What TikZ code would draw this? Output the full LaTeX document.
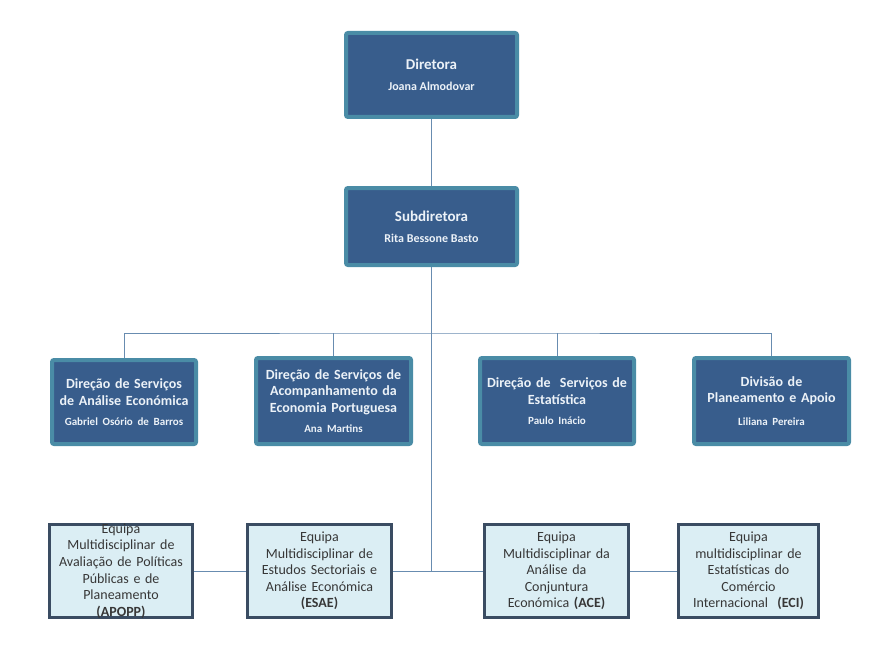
\documentclass[tikz,border=0pt]{standalone}
\usepackage{fontspec}
\setmainfont{Carlito}
\usetikzlibrary{positioning}
\usetikzlibrary{backgrounds}

\definecolor{boxblue}{RGB}{56,93,140}
\definecolor{boxrim}{RGB}{74,140,166}
\definecolor{teamfill}{RGB}{219,238,244}
\definecolor{teamrim}{RGB}{58,76,98}
\definecolor{linkblue}{RGB}{104,140,176}
\definecolor{paletext}{RGB}{236,242,248}
\definecolor{teamtext}{RGB}{55,55,55}

\tikzset{
    chief/.style={rectangle, rounded corners=2pt, draw=boxrim, line width=4pt, fill=boxblue,
        text=paletext, align=center, inner sep=2pt},
    head/.style={chief, font=\bfseries\fontsize{15}{19}\selectfont},
    unit/.style={chief, font=\bfseries\fontsize{14}{16.8}\selectfont},
    team/.style={rectangle, draw=teamrim, line width=3pt, fill=teamfill, text=teamtext,
        font=\fontsize{14}{16.6}\selectfont, align=center, inner xsep=1pt, inner ysep=-4pt,
        minimum height=93pt},
    link/.style={draw=linkblue, line width=0.9pt}
}
\newcommand{\who}[2][2pt]{\\[#1]{\fontsize{12}{14}\selectfont #2}}
\newcommand{\lead}[2][3pt]{\\[#1]{\fontsize{11}{13}\selectfont #2}}

\begin{document}
\begin{tikzpicture}[x=1pt, y=-1pt]
    \useasboundingbox (0,0) rectangle (875,650);

    % direction
    \node[head, minimum width=171pt, minimum height=84pt] (dir) at (431.5,75)
        {Diretora\who{Joana Almodovar}};
    \node[head, minimum width=171pt, minimum height=77pt] (sub) at (431.5,226.5)
        {Subdiretora\who{Rita Bessone Basto}};

    % services
    \node[unit, minimum width=144pt, minimum height=84pt, text width=140pt] (dsae) at (124,402)
        {Direção de Serviços\\de Análise Económica\lead{Gabriel Osório de Barros}};
    \node[unit, minimum width=155pt, minimum height=86pt, text width=150pt] (dsaep) at (333.5,401)
        {Direção de Serviços de\\Acompanhamento da\\Economia Portuguesa\lead{Ana Martins}};
    \node[unit, minimum width=154pt, minimum height=86pt, text width=150pt] (dse) at (557,401)
        {Direção de~ Serviços de\\Estatística\lead{Paulo Inácio}};
    \node[unit, minimum width=155pt, minimum height=86pt, text width=150pt] (dpa) at (771.5,401)
        {Divisão de\\Planeamento e Apoio\lead[6pt]{Liliana Pereira}};

    % teams
    \node[team, minimum width=143pt, text width=140pt] (apopp) at (121,571)
        {Equipa\\Multidisciplinar de\\Avaliação de Políticas\\Públicas e de\\Planeamento\\\textbf{(APOPP)}};
    \node[team, minimum width=144pt, text width=140pt] (esae) at (319.5,571)
        {Equipa\\Multidisciplinar de\\Estudos Sectoriais e\\Análise Económica\\\textbf{(ESAE)}};
    \node[team, minimum width=144pt, text width=140pt] (ace) at (556.5,571)
        {Equipa\\Multidisciplinar da\\Análise da\\Conjuntura\\Económica \textbf{(ACE)}};
    \node[team, minimum width=140pt, text width=136pt] (eci) at (748.5,571)
        {Equipa\\multidisciplinar de\\Estatísticas do\\Comércio\\Internacional~ \textbf{(ECI)}};

    \begin{scope}[on background layer]
        \coordinate (bus) at (431.5,333);
        \coordinate (hub) at (sub.south |- esae.east);
        \draw[link] (dir) -- (sub);
        \draw[link] (sub) -- (hub);
        \draw[link] (dsae.north) |- (bus) -| (dpa.north);
        \draw[link] (dsaep.north) -- (dsaep.north |- bus);
        \draw[link] (dse.north) -- (dse.north |- bus);
        \draw[link] (apopp) -- (esae);
        \draw[link] (esae) -- (ace);
        \draw[link] (ace) -- (eci);
    \end{scope}
\end{tikzpicture}
\end{document}
